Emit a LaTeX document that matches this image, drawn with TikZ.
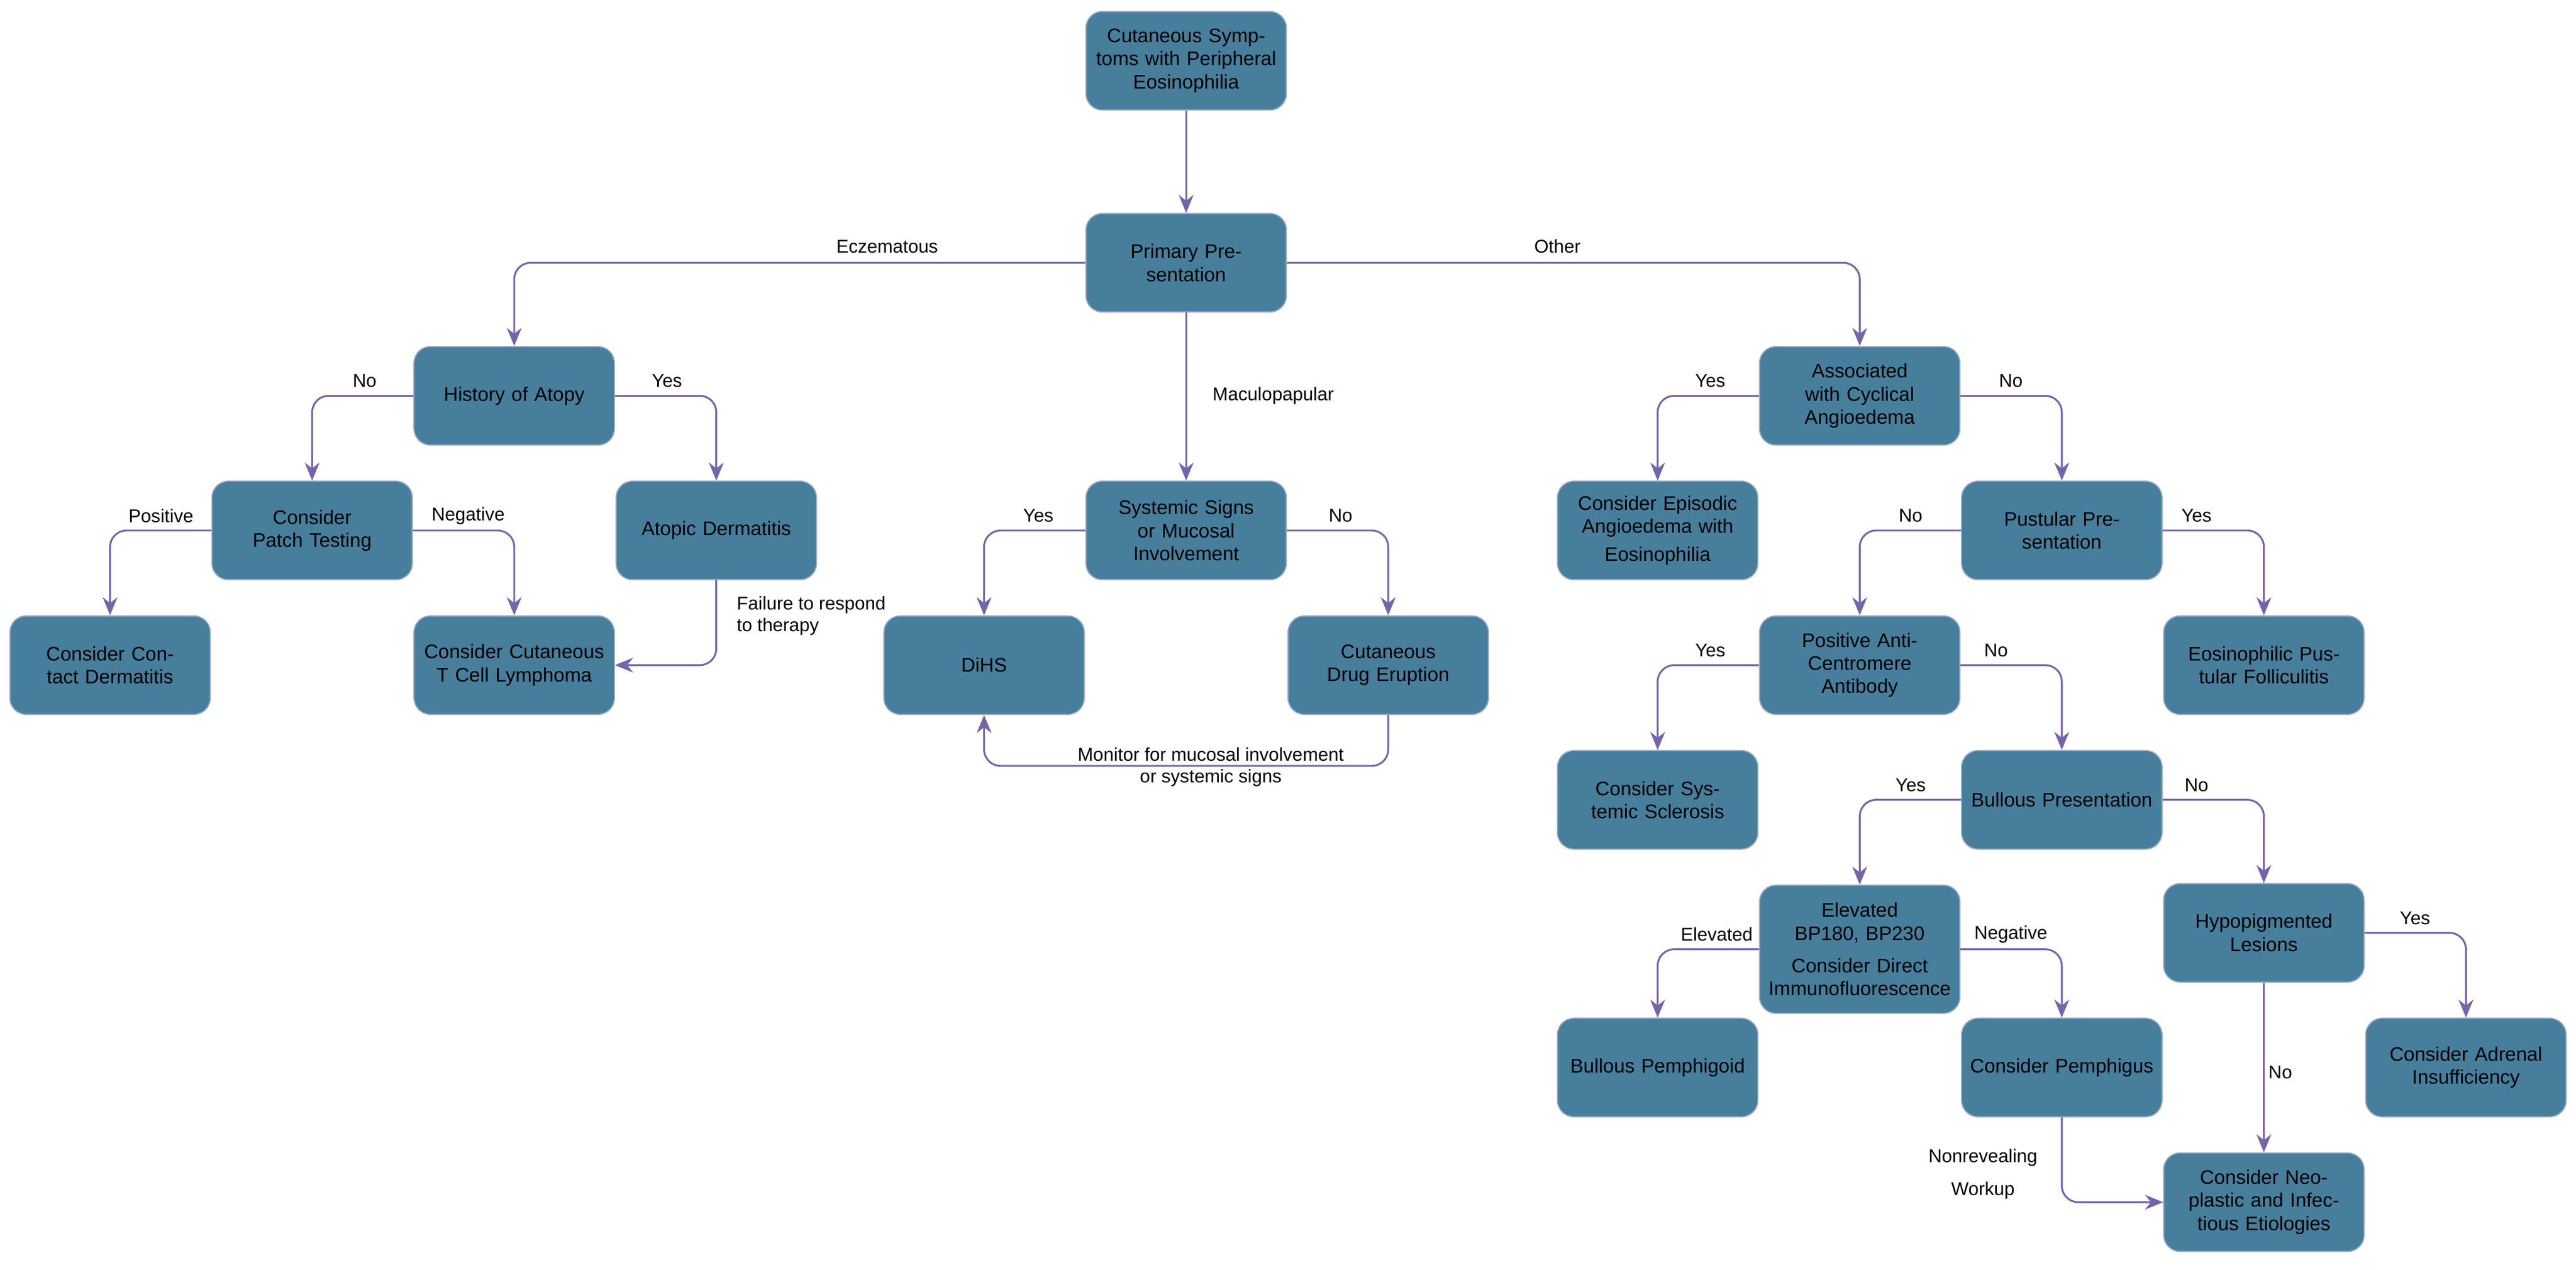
\documentclass[tikz,border=0pt]{standalone}
\usepackage{fontspec}
\setmainfont{Liberation Sans}
\usetikzlibrary{arrows.meta}
\definecolor{boxf}{HTML}{477E9C}
\definecolor{boxd}{HTML}{9AA9C8}
\definecolor{arr}{HTML}{7565A8}
\begin{document}
\begin{tikzpicture}[x=0.05cm,y=-0.05cm,
 box/.style={draw=boxd,line width=1pt,fill=boxf,rounded corners=0.5cm,minimum width=6.1cm,minimum height=3cm,text width=5.6cm,align=center,font=\fontsize{17}{20}\selectfont,inner sep=2pt},
 e/.style={draw=arr,line width=1.6pt,rounded corners=0.5cm,-{Stealth[length=0.55cm,width=0.45cm]}},
 lb/.style={font=\fontsize{16}{19}\selectfont,align=center}]
\useasboundingbox (0,0) rectangle (1568,773);
\fill[white] (0,0) rectangle (1568,773);
\node[box] (top) at (722,37) {Cutaneous Symptoms with Peripheral Eosinophilia};
\node[box] (prim) at (722,160) {Primary Presentation};
\node[box] (hist) at (313,241) {History of Atopy};
\node[box] (patch) at (190,323) {Consider Patch Testing};
\node[box] (atop) at (436,323) {Atopic Dermatitis};
\node[box] (cont) at (67,405) {Consider Contact Dermatitis};
\node[box] (ctcl) at (313,405) {Consider Cutaneous T Cell Lymphoma};
\node[box] (sys) at (722,323) {Systemic Signs or Mucosal Involvement};
\node[box] (dihs) at (599,405) {DiHS};
\node[box] (drug) at (845,405) {Cutaneous Drug Eruption};
\node[box] (cyc) at (1132,241) {Associated with Cyclical Angioedema};
\node[box] (epi) at (1009,323) {Consider Episodic Angioedema with\\[4pt] Eosinophilia};
\node[box] (pus) at (1255,323) {Pustular Presentation};
\node[box] (anti) at (1132,405) {Positive Anti-Centromere Antibody};
\node[box] (epf) at (1378,405) {Eosinophilic Pustular Folliculitis};
\node[box] (ssc) at (1009,487) {Consider Systemic Sclerosis};
\node[box] (bul) at (1255,487) {Bullous Presentation};
\node[box,minimum height=3.9cm] (bp) at (1132,578) {Elevated BP180, BP230\\[8pt] Consider Direct Immunofluorescence};
\node[box] (hypo) at (1378,568) {Hypopigmented Lesions};
\node[box] (bpg) at (1009,650) {Bullous Pemphigoid};
\node[box] (pem) at (1255,650) {Consider Pemphigus};
\node[box] (adr) at (1501,650) {Consider Adrenal Insufficiency};
\node[box] (neo) at (1378,732) {Consider Neoplastic and Infectious Etiologies};
\draw[e] (top) -- (prim);
\draw[e] (prim.west) -| (hist.north);
\draw[e] (prim.east) -| (cyc.north);
\draw[e] (prim) -- (sys);
\draw[e] (hist.west) -| (patch.north);
\draw[e] (hist.east) -| (atop.north);
\draw[e] (patch.west) -| (cont.north);
\draw[e] (patch.east) -| (ctcl.north);
\draw[e] (atop.south) |- (ctcl.east);
\draw[e] (sys.west) -| (dihs.north);
\draw[e] (sys.east) -| (drug.north);
\draw[e] (drug.south) -- ++(0,31) -| (dihs.south);
\draw[e] (cyc.west) -| (epi.north);
\draw[e] (cyc.east) -| (pus.north);
\draw[e] (pus.west) -| (anti.north);
\draw[e] (pus.east) -| (epf.north);
\draw[e] (anti.west) -| (ssc.north);
\draw[e] (anti.east) -| (bul.north);
\draw[e] (bul.west) -| (bp.north);
\draw[e] (bul.east) -| (hypo.north);
\draw[e] (bp.west) -| (bpg.north);
\draw[e] (bp.east) -| (pem.north);
\draw[e] (hypo.east) -| (adr.north);
\draw[e] (hypo) -- (neo);
\draw[e] (pem.south) |- (neo.west);
\node[lb] at (540,150) {Eczematous};
\node[lb] at (948,150) {Other};
\node[lb] at (775,241) {Maculopapular};
\node[lb] at (222,232) {No};
\node[lb] at (406,232) {Yes};
\node[lb] at (98,314) {Positive};
\node[lb] at (285,314) {Negative};
\node[lb,align=left,anchor=west] at (446,375) {Failure to respond\\to therapy};
\node[lb] at (632,314) {Yes};
\node[lb] at (816,314) {No};
\node[lb] at (737,467) {Monitor for mucosal involvement\\or systemic signs};
\node[lb] at (1041,232) {Yes};
\node[lb] at (1224,232) {No};
\node[lb] at (1163,314) {No};
\node[lb] at (1337,314) {Yes};
\node[lb] at (1041,396) {Yes};
\node[lb] at (1215,396) {No};
\node[lb] at (1163,478) {Yes};
\node[lb] at (1337,478) {No};
\node[lb] at (1045,569) {Elevated};
\node[lb] at (1224,569) {Negative};
\node[lb] at (1470,559) {Yes};
\node[lb] at (1388,653) {No};
\node[lb] at (1207,705) {Nonrevealing};
\node[lb] at (1207,725) {Workup};
\end{tikzpicture}
\end{document}
